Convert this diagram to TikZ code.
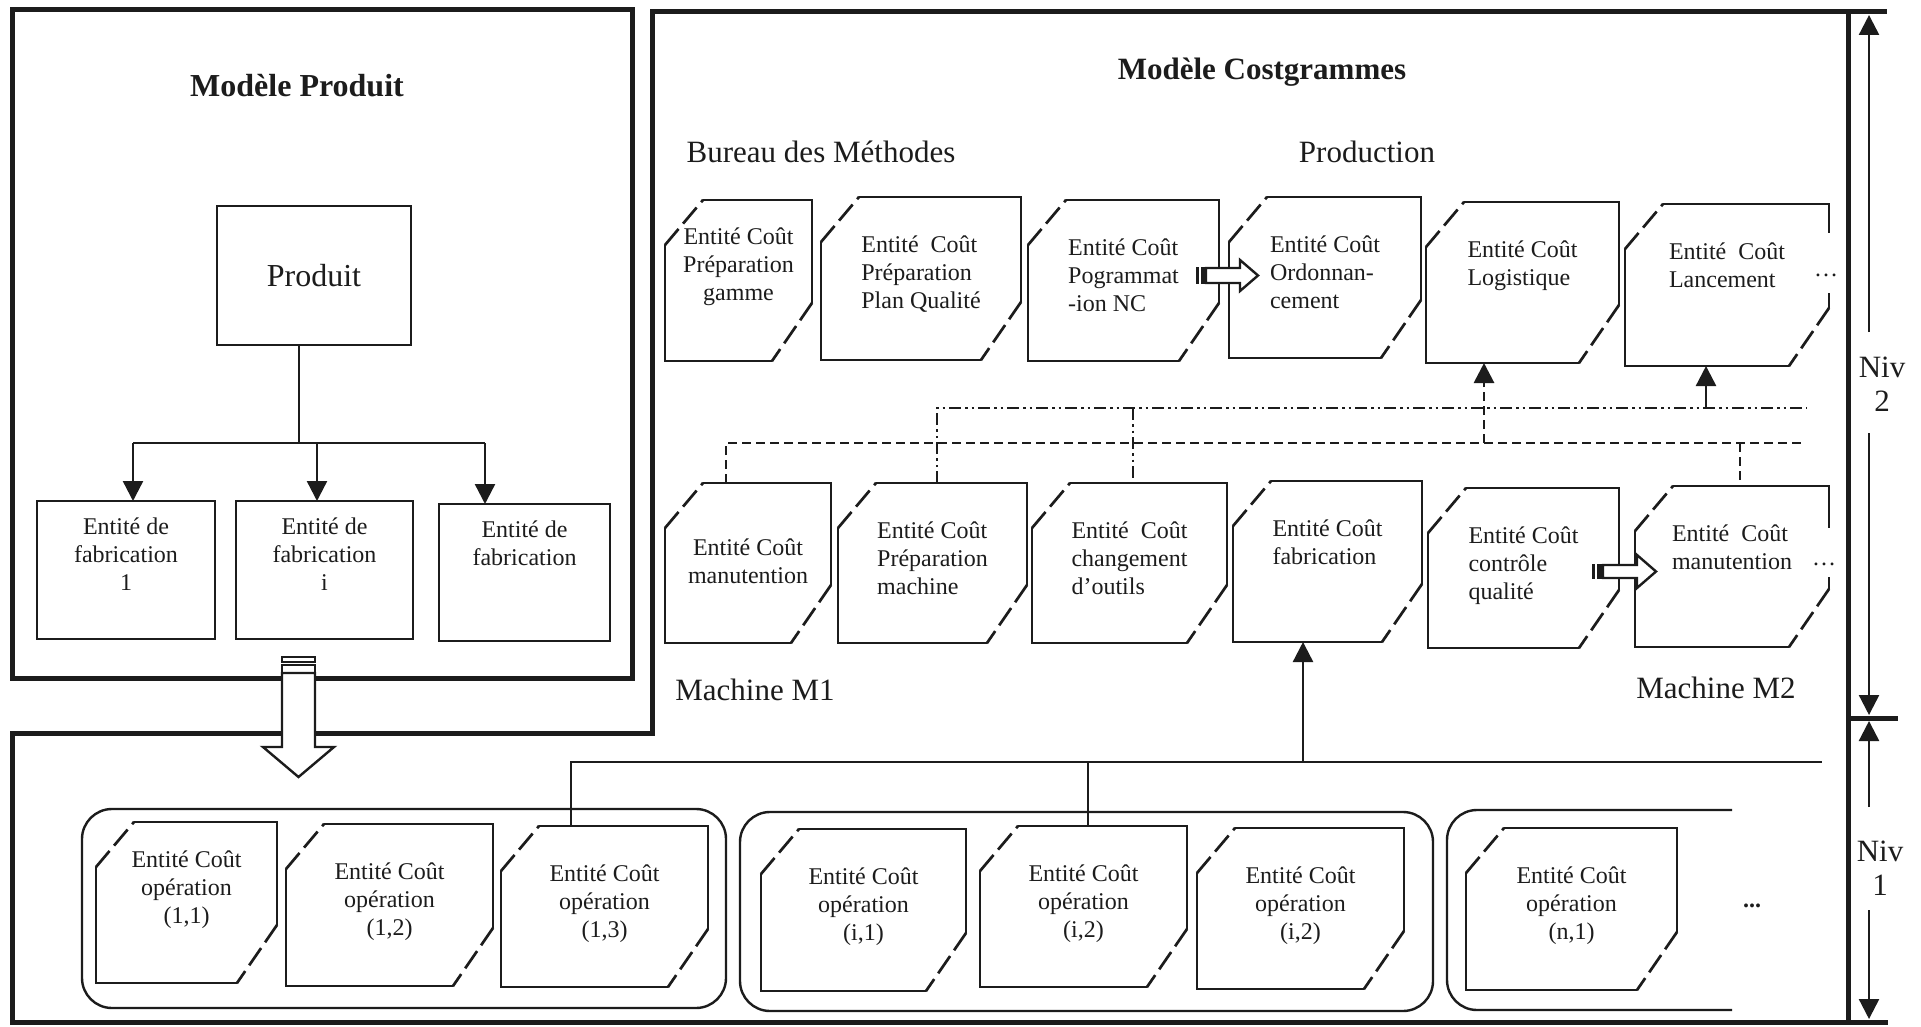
\documentclass[tikz,border=0pt]{standalone}
\usepackage{fontspec}
\setmainfont{Liberation Serif}
\usetikzlibrary{arrows.meta,positioning,calc}
\definecolor{ink}{HTML}{1C1C1C}

% cost entity: name, align, left, top, right, bottom, text offset, text
\newcommand{\entite}[8]{%
  \node[entbox,minimum width={#5-#3},minimum height={#6-#4},anchor=north west] (#1) at (#3,#4) {};
  \draw[entline] (#3+\cutx,#4) -- (#5,#4) -- (#5,#6-\cutby);
  \draw[entline] (#5-\cutbx,#6) -- (#3,#6) -- (#3,#4+\cuty);
  \draw[entcut] (#3,#4+\cuty) -- (#3+\cutx,#4);
  \draw[entcut] (#5,#6-\cutby) -- (#5-\cutbx,#6);
  \node[enttext,align=#2,anchor=north] (#1-t) at ($(#1.north)+(0,#7)$) {#8};
}

\begin{document}
\begin{tikzpicture}[x=1pt,y=-1pt,
  every node/.style={text=ink},
  outerln/.style={ink,line width=5pt,line cap=rect},
  entbox/.style={draw=none,inner sep=0pt,outer sep=0pt},
  entline/.style={ink,line width=2.7pt,line join=miter,line cap=round},
  entcut/.style={ink,line width=2.7pt,dash pattern=on 21pt off 7pt},
  enttext/.style={inner sep=0pt,font=\fontsize{24}{28}\selectfont},
  fabbox/.style={draw=ink,line width=2.4pt,inner sep=0pt,outer sep=0pt},
  conn/.style={ink,line width=2.4pt},
  uparr/.style={-{Triangle[width=20pt,length=20pt]}},
  dashln/.style={ink,line width=2.8pt,dash pattern=on 9pt off 5pt},
  dotln/.style={ink,line width=2.8pt,dash pattern=on 12pt off 4pt on 2.5pt off 4pt on 2.5pt off 4pt},
  grp/.style={ink,line width=2.4pt,rounded corners=30pt},
  hollow/.style={draw=ink,fill=white,line width=2.4pt,line join=miter},
  titletxt/.style={font=\fontsize{32}{36}\selectfont\bfseries},
  headtxt/.style={font=\fontsize{31}{34}\selectfont}]
\def\cutx{38}\def\cuty{45}\def\cutbx{40}\def\cutby{58}
\useasboundingbox (0,0) rectangle (1921,1027);
\fill[white] (0,0) rectangle (1921,1027);

% outer frames
\draw[outerln] (12,10) rectangle (632,678);
\draw[outerln] (12,733) -- (652,733) -- (652,12) -- (1884,12);
\draw[outerln] (1848,12) -- (1848,1022);
\draw[outerln] (12,733) -- (12,1022) -- (1885,1022);
\draw[outerln] (1848,718) -- (1895,718);

% modele produit
\node[titletxt] (mp) at (297,86) {Modèle Produit};
\node[fabbox,minimum width=194,minimum height=139,font=\fontsize{32}{36}\selectfont] (prod) at (314,275.5) {Produit};
\node[fabbox,minimum width=178,minimum height=138,anchor=north west] (fab1) at (37,501) {};
\node[fabbox,minimum width=177,minimum height=138,anchor=north west] (fab2) at (236,501) {};
\node[fabbox,minimum width=171,minimum height=137,anchor=north west] (fab3) at (439,504) {};
\node[enttext,align=center,anchor=north] (fab1-t) at ($(fab1.north)+(0,17)$) {Entité de\\fabrication\\1};
\node[enttext,align=center,anchor=north] (fab2-t) at ($(fab2.north)+(0,17)$) {Entité de\\fabrication\\i};
\node[enttext,align=center,anchor=north] (fab3-t) at ($(fab3.north)+(0,17)$) {Entité de\\fabrication};
\draw[conn] (299,0 |- prod.south) -- (299,443);
\draw[conn] (133,443) -- (485,443);
\draw[conn,uparr] (133,443) -- (133,0 |- fab1.north);
\draw[conn,uparr] (317,443) -- (317,0 |- fab2.north);
\draw[conn,uparr] (485,443) -- (485,0 |- fab3.north);

% modele costgrammes
\node[titletxt,font=\fontsize{31}{34}\selectfont\bfseries] (mc) at (1262,72) {Modèle Costgrammes};
\node[headtxt] (bm) at (821,152) {Bureau des Méthodes};
\node[headtxt] (pr) at (1367,152) {Production};
\entite{prepg}{center}{665}{200}{812}{361}{28}{Entité Coût\\Préparation\\gamme}
\entite{prepq}{left}{821}{197}{1021}{360}{39}{Entité\ \ Coût\\Préparation\\Plan Qualité}
\entite{prog}{left}{1028}{200}{1219}{361}{39}{Entité Coût\\Pogrammat\\-ion NC}
\entite{ordo}{left}{1229}{197}{1421}{358}{39}{Entité Coût\\Ordonnan-\\cement}
\entite{logi}{left}{1426}{202}{1619}{363}{39}{Entité Coût\\Logistique}
\entite{lanc}{left}{1625}{204}{1829}{366}{39}{Entité\ \ Coût\\Lancement}
\entite{manu1}{center}{665}{483}{831}{643}{56}{Entité Coût\\manutention}
\entite{prepm}{left}{838}{483}{1027}{643}{39}{Entité Coût\\Préparation\\machine}
\entite{outil}{left}{1032}{483}{1227}{643}{39}{Entité\ \ Coût\\changement\\d’outils}
\entite{fabr}{left}{1233}{481}{1422}{642}{39}{Entité Coût\\fabrication}
\entite{ctrl}{left}{1428}{488}{1619}{648}{39}{Entité Coût\\contrôle\\qualité}
\entite{manu2}{left}{1635}{486}{1829}{647}{39}{Entité\ \ Coût\\manutention}
\fill[white] (1821,233) rectangle (1837,293);
\node[enttext] (dots1) at (1826,275) {\dots};
\fill[white] (1821,528) rectangle (1837,577);
\node[enttext] (dots2) at (1824,564) {\dots};
\node[headtxt] (m1) at (755,690) {Machine M1};
\node[headtxt] (m2) at (1716,688) {Machine M2};

% hollow arrows
\fill[ink] (1196,267) rectangle (1199,284);
\fill[ink] (1201,267) rectangle (1206,284);
\draw[hollow] (1206,268) -- (1240,268) -- (1240,260) -- (1258,275.5) -- (1240,291) -- (1240,283) -- (1206,283) -- cycle;
\fill[ink] (1592,564) rectangle (1595,579);
\fill[ink] (1597,564) rectangle (1603,579);
\draw[hollow] (1603,565) -- (1637,565) -- (1637,555) -- (1656,571.5) -- (1637,588) -- (1637,578) -- (1603,578) -- cycle;

% links between machines
\draw[dotln] (937,0 |- prepm.north) |- (1807,408);
\draw[dotln] (1133,408) -- (1133,0 |- outil.north);
\draw[conn,uparr] (1706,408) -- (1706,0 |- lanc.south);
\draw[dashln] (726,0 |- manu1.north) |- (1801,443);
\draw[dashln] (1740,443) -- (1740,0 |- manu2.north);
\draw[dashln,uparr] (1484,443) -- (1484,0 |- logi.south);

% operations
\draw[grp] (82,809) rectangle (726,1008);
\draw[grp] (740,812) rectangle (1433,1011);
\draw[grp] (1732,810) -- (1447,810) -- (1447,1010) -- (1732,1010);
\entite{op11}{center}{96}{822}{277}{983}{29}{Entité Coût\\opération\\(1,1)}
\entite{op12}{center}{286}{824}{493}{986}{39}{Entité Coût\\opération\\(1,2)}
\entite{op13}{center}{501}{826}{708}{987}{39}{Entité Coût\\opération\\(1,3)}
\entite{opi1}{center}{761}{829}{966}{991}{39}{Entité Coût\\opération\\(i,1)}
\entite{opi2}{center}{980}{826}{1187}{987}{39}{Entité Coût\\opération\\(i,2)}
\entite{opi3}{center}{1197}{828}{1404}{989}{39}{Entité Coût\\opération\\(i,2)}
\entite{opn1}{center}{1466}{828}{1677}{990}{39}{Entité Coût\\opération\\(n,1)}
\node[enttext,font=\fontsize{24}{28}\selectfont\bfseries] (odots) at (1752,906) {...};
\coordinate (busend) at (1822,762);
\draw[conn] (571,0 |- op13.north) |- (busend);
\draw[conn] (1088,762) -- (1088,0 |- opi2.north);
\draw[conn,uparr] (1303,762) -- (1303,0 |- fabr.south);

% product to operations
\draw[ink,line width=2.4pt] (282,657) rectangle (315,662);
\draw[ink,line width=2.4pt] (282,665) rectangle (315,673);
\draw[hollow] (282,673) -- (282,747) -- (263,747) -- (298.5,777) -- (334,747) -- (315,747) -- (315,673) -- cycle;

% levels
\node[headtxt,align=center] (niv2) at (1882,384) {Niv\\2};
\node[headtxt,align=center] (niv1) at (1880,868) {Niv\\1};
\draw[conn,uparr] (1869,332) -- (1869,15);
\draw[conn,uparr] (1869,433) -- (1869,715);
\draw[conn,uparr] (1869,807) -- (1869,721);
\draw[conn,uparr] (1869,910) -- (1869,1019);
\end{tikzpicture}
\end{document}
